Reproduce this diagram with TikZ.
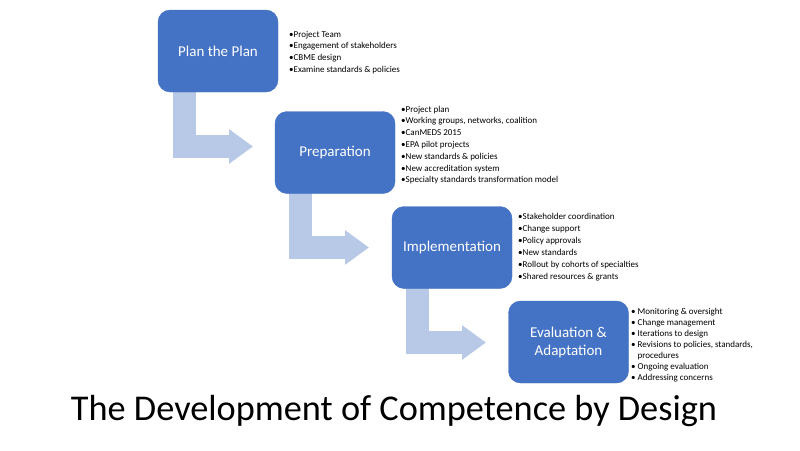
\documentclass[tikz,border=0pt]{standalone}
\usepackage{fontspec}
\setmainfont{Carlito}
\usetikzlibrary{arrows.meta}
\definecolor{boxblue}{RGB}{68,114,196}
\definecolor{arrowblue}{RGB}{184,200,231}
\begin{document}
\begin{tikzpicture}[x=1pt,y=-1pt,
  stage/.style={fill=boxblue,draw=boxblue,rounded corners=12pt,minimum width=120pt,minimum height=82pt,
    text=white,align=center,font=\fontsize{15}{18}\selectfont,inner sep=2pt},
  bigarrow/.style={draw=arrowblue,line width=23pt,line join=miter,
    -{Triangle[width=33pt,length=24pt]}},
  items/.style={anchor=base west,inner sep=0pt,font=\fontsize{9}{11.7}\selectfont}
]
\useasboundingbox (0,0) rectangle (800,450);
\fill[white] (0,0) rectangle (800,450);
% coordinates for the bent arrows
\coordinate (a1s) at (184.5,88);
\coordinate (a1e) at (253,146.5);
\coordinate (a2s) at (300.5,190);
\coordinate (a2e) at (369,247.5);
\coordinate (a3s) at (417.5,285);
\coordinate (a3e) at (486,342.5);
\draw[bigarrow] (a1s) |- (a1e);
\draw[bigarrow] (a2s) |- (a2e);
\draw[bigarrow] (a3s) |- (a3e);
% stages
\node[stage] (s1) at (218,51) {Plan the Plan};
\node[stage] (s2) at (335,152.5) {Preparation};
\node[stage] (s3) at (452,247.5) {Implementation};
\node[stage] (s4) at (568.5,342) {Evaluation \&\\Adaptation};
% lists
\node[items] (l1) at (289,37) {\begin{tabular}[t]{@{}l@{}}
•Project Team\\
•Engagement of stakeholders\\
•CBME design\\
•Examine standards \& policies
\end{tabular}};
\node[items,font=\fontsize{9}{11.83}\selectfont] (l2) at (401,112) {\begin{tabular}[t]{@{}l@{}}
•Project plan\\
•Working groups, networks, coalition\\
•CanMEDS 2015\\
•EPA pilot projects\\
•New standards \& policies\\
•New accreditation system\\
•Specialty standards transformation model
\end{tabular}};
\node[items,font=\fontsize{9}{12}\selectfont] (l3) at (518,219) {\begin{tabular}[t]{@{}l@{}}
•Stakeholder coordination\\
•Change support\\
•Policy approvals\\
•New standards\\
•Rollout by cohorts of specialties\\
•Shared resources \& grants
\end{tabular}};
\node[items,font=\fontsize{9}{11.05}\selectfont] (l4) at (631,314) {\begin{tabular}[t]{@{}l@{}}
• Monitoring \& oversight\\
• Change management\\
• Iterations to design\\
• Revisions to policies, standards,\\
\hphantom{• }procedures\\
• Ongoing evaluation\\
• Addressing concerns
\end{tabular}};
% title
\node[anchor=base,inner sep=0pt,font=\fontsize{36.3}{44}\selectfont] (title) at (394,420) {The Development of Competence by Design};
\end{tikzpicture}
\end{document}
